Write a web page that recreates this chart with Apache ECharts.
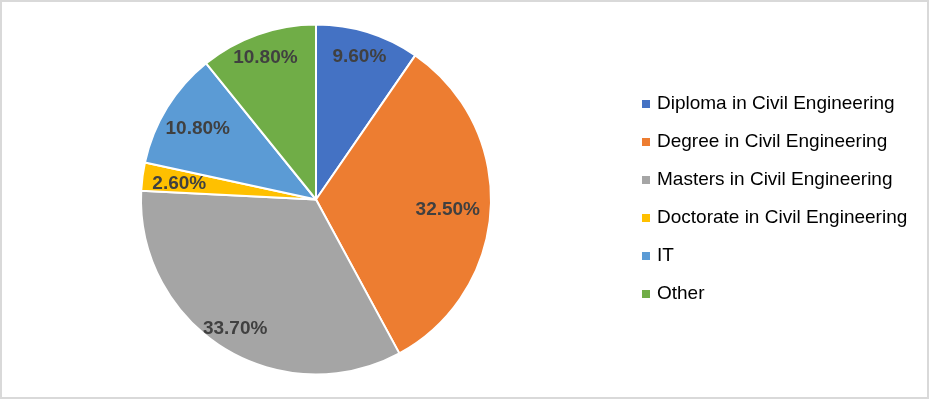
<!DOCTYPE html>
<html>
<head>
<meta charset="utf-8">
<script src="https://cdn.jsdelivr.net/npm/echarts@6/dist/echarts.min.js"></script>
<style>
html,body{margin:0;padding:0;background:#fff;}
#wrap{position:absolute;left:0;top:0;width:925px;height:395px;border:2px solid #d9d9d9;}
#chart{position:absolute;left:-2px;top:-2px;width:929px;height:399px;}
</style>
</head>
<body>
<div id="wrap"><div id="chart"></div></div>
<script>
const categories = ['Diploma in Civil Engineering','Degree in Civil Engineering','Masters in Civil Engineering','Doctorate in Civil Engineering','IT','Other'];
const values = [9.6, 32.5, 33.7, 2.6, 10.8, 10.8];
const colors = ['#4472C4','#ED7D31','#A5A5A5','#FFC000','#5B9BD5','#70AD47'];
// small per-label nudges to mimic Excel's best-fit label placement
const labelNudges = [[0,-3],[-14,2],[-3,6],[8,3],[6,6],[-2,-4]];

const data = categories.map((c,i)=>({name:c, value:values[i], itemStyle:{color:colors[i]}}));
const labelData = categories.map((c,i)=>({name:c, value:values[i], label:{offset:labelNudges[i]}}));

const chart = echarts.init(document.getElementById('chart'), null, {renderer:'canvas'});
chart.setOption({
  animation:false,
  backgroundColor:'transparent',
  legend:{
    orient:'vertical',
    left:642, top:94,
    padding:0,
    itemWidth:8, itemHeight:8,
    itemGap:18,
    icon:'rect',
    data:categories,
    itemStyle:{borderWidth:0},
    textStyle:{fontFamily:'Liberation Sans', fontSize:19, color:'#000', lineHeight:20, padding:[0,0,0,2]}
  },
  series:[
    {
      type:'pie',
      center:[316,199.5],
      radius:[0,175],
      startAngle:90,
      clockwise:true,
      data:data,
      itemStyle:{borderColor:'#fff', borderWidth:2},
      label:{show:false},
      labelLine:{show:false},
      emphasis:{disabled:true}
    },
    {
      type:'pie',
      center:[316,199.5],
      radius:[111,175],
      startAngle:90,
      clockwise:true,
      data:labelData,
      silent:true,
      legendHoverLink:false,
      itemStyle:{color:'rgba(0,0,0,0)', borderWidth:0},
      label:{show:true, position:'inside', formatter:p=>p.value.toFixed(2)+'%', fontFamily:'Liberation Sans', fontWeight:'bold', fontSize:19, color:'#404040'},
      labelLine:{show:false},
      emphasis:{disabled:true}
    }
  ]
});
</script>
</body>
</html>
